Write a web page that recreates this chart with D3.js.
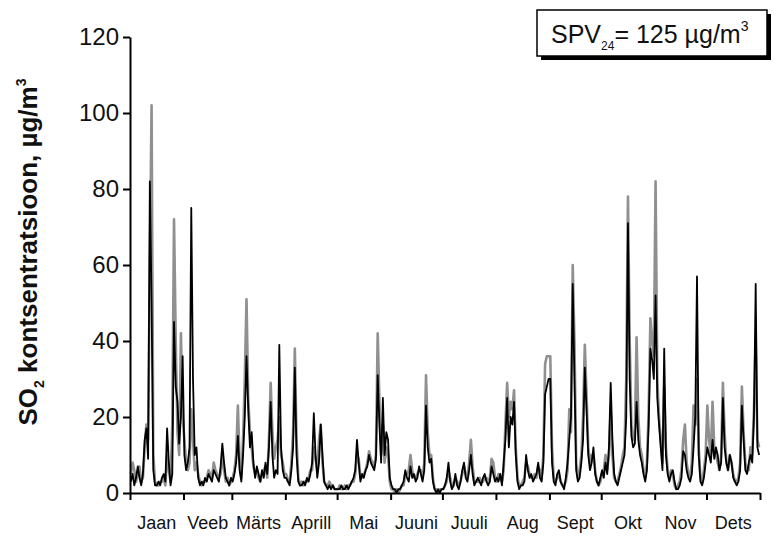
<!DOCTYPE html>
<html>
<head>
<meta charset="utf-8">
<script src="https://cdn.jsdelivr.net/npm/d3@7"></script>
<style>
  html, body { margin: 0; padding: 0; background: #fff; }
  svg { display: block; font-family: "Liberation Sans", Arial, sans-serif; }
</style>
</head>
<body>
<div id="chart"></div>
<script>
const months = ['Jaan', 'Veeb', 'Märts', 'Aprill', 'Mai', 'Juuni', 'Juuli', 'Aug', 'Sept', 'Okt', 'Nov', 'Dets'];
const monthDays = [31, 28, 31, 30, 31, 30, 31, 31, 30, 31, 30, 31];
const yTicks = [0, 20, 40, 60, 80, 100, 120];

// daily SO2, black station
const so2Black = [
  3,5,2,4,7,4,2,5,14,17,9,82,50,6,2,2,3,2,4,5,3,17,8,2,5,45,28,24,13,20,36,
  10,6,8,12,75,30,10,12,4,2,3,2,4,3,5,4,3,6,5,4,3,7,13,8,4,3,2,4,
  3,5,8,15,6,3,10,20,36,22,12,16,8,4,7,5,3,6,4,8,5,12,24,10,4,6,5,39,12,6,4,
  4,3,2,6,12,33,10,3,2,2,3,2,4,3,5,8,21,10,4,8,18,10,3,2,1,2,1,2,1,1,
  1,1,2,1,1,2,1,2,3,4,6,14,8,3,5,4,6,7,10,8,7,6,9,31,18,8,25,10,16,14,4,
  2,1,1,0,1,1,2,3,6,4,3,7,4,5,3,4,7,5,3,6,23,12,8,9,3,1,0,1,0,1,
  1,2,4,8,3,1,2,5,2,1,3,6,8,4,3,6,10,5,2,3,4,3,2,4,5,3,2,3,7,5,3,
  4,3,5,2,8,14,25,12,20,18,24,10,3,1,2,2,3,10,6,4,5,3,4,5,8,4,3,8,26,28,30,
  30,8,3,2,5,6,3,2,1,4,8,14,20,55,30,6,3,4,8,14,33,22,10,6,8,12,5,3,2,4,
  6,4,8,5,12,29,14,5,3,2,4,6,8,10,20,71,30,15,12,13,24,14,10,8,5,3,6,18,38,35,30,
  52,25,18,12,6,38,10,5,3,5,6,3,1,1,2,4,11,10,6,4,3,5,12,20,57,10,3,2,4,8,
  12,10,8,14,9,12,10,6,8,25,12,8,6,10,8,4,3,2,3,6,23,14,6,5,8,10,8,20,55,12,10
];

// daily SO2, grey station
const so2Grey = [
  5,8,6,3,5,7,3,4,12,18,14,60,102,10,3,2,2,3,3,4,2,10,6,3,18,72,40,16,10,42,20,
  14,8,6,8,22,14,6,8,5,3,2,3,3,4,6,5,4,8,6,5,4,5,10,6,3,4,2,3,
  4,6,10,23,8,4,14,30,51,25,16,12,7,5,6,4,3,5,6,7,4,14,29,16,9,12,14,20,10,8,5,
  5,3,3,8,16,38,14,4,2,3,2,3,3,4,6,6,12,9,6,14,18,8,3,2,2,3,2,2,1,1,
  1,2,1,1,2,1,2,2,3,3,5,10,9,4,4,5,6,8,11,9,8,7,10,42,24,10,18,8,12,10,3,
  1,1,0,1,0,1,2,2,5,5,6,10,6,4,4,5,6,6,4,8,31,16,10,10,4,1,1,0,1,1,
  1,2,3,6,4,2,2,4,3,2,3,5,7,5,4,8,14,7,3,3,3,4,3,3,4,4,3,4,9,8,4,
  3,5,4,3,6,18,29,20,24,22,27,12,4,2,2,3,4,8,7,5,4,4,5,4,7,6,4,10,34,36,36,
  36,12,4,3,4,5,3,2,2,3,6,22,16,60,40,8,4,6,10,20,39,26,12,8,10,10,6,3,2,3,
  5,6,10,6,10,22,10,4,3,3,5,7,10,12,30,78,40,18,14,16,41,20,12,10,6,4,8,22,46,40,36,
  82,30,20,14,8,28,12,6,4,6,5,2,1,2,3,6,14,18,8,5,4,8,23,18,30,12,4,3,6,10,
  23,14,10,24,12,10,8,6,10,29,16,8,6,10,8,5,3,3,4,8,28,16,8,6,6,12,10,22,40,14,12
];

const W = 774, H = 556;
const margin = { top: 37, right: 14, bottom: 63, left: 130 };
const iw = W - margin.left - margin.right, ih = H - margin.top - margin.bottom;

const svg = d3.select('#chart').append('svg').attr('width', W).attr('height', H);
const g = svg.append('g').attr('transform', `translate(${margin.left},${margin.top})`);

const x = d3.scaleLinear().domain([0, 365]).range([0, iw]);
const y = d3.scaleLinear().domain([0, 120]).range([ih, 0]);

const monthStarts = [0];
monthDays.forEach(d => monthStarts.push(monthStarts[monthStarts.length - 1] + d));

const line = d3.line().x((d, i) => x(i + 0.5)).y(d => y(d));

g.append('path').datum(so2Grey).attr('d', line)
  .attr('fill', 'none').attr('stroke', '#909090').attr('stroke-width', 2.6).attr('stroke-linejoin', 'round');
g.append('path').datum(so2Black).attr('d', line)
  .attr('fill', 'none').attr('stroke', '#000').attr('stroke-width', 1.8).attr('stroke-linejoin', 'round');

// axes
const yAxis = g.append('g').call(d3.axisLeft(y).tickValues(yTicks).tickSize(7).tickPadding(4).tickSizeOuter(0));
yAxis.select('.domain').attr('stroke-width', 2);
yAxis.selectAll('line').attr('stroke-width', 2);
yAxis.selectAll('text').style('font-size', '24px').style('fill', '#111');

const xAxis = g.append('g').attr('transform', `translate(0,${ih})`)
  .call(d3.axisBottom(x).tickValues(monthStarts).tickSize(7).tickFormat('').tickSizeOuter(0));
xAxis.select('.domain').attr('stroke-width', 2);
xAxis.selectAll('line').attr('stroke-width', 2);

// month names under the middle of each month
g.append('g').selectAll('text').data(months).join('text')
  .attr('x', (d, i) => x((monthStarts[i] + monthStarts[i + 1]) / 2))
  .attr('y', ih + 36)
  .attr('text-anchor', 'middle')
  .style('font-size', '18px').style('fill', '#111')
  .text(d => d);

// y title
const yt = svg.append('text')
  .attr('transform', 'translate(37,252) rotate(-90)')
  .attr('text-anchor', 'middle')
  .style('font-size', '26px').style('font-weight', 'bold').style('fill', '#111');
yt.append('tspan').text('SO');
yt.append('tspan').attr('dy', 7).style('font-size', '14px').text('2');
yt.append('tspan').attr('dy', -7).text(' kontsentratsioon, µg/m');
yt.append('tspan').attr('dy', -11).style('font-size', '14px').text('3');

// limit value box
const bx = 537, by = 10, bw = 230, bh = 46;
svg.append('rect').attr('x', bx + 4).attr('y', by + 4).attr('width', bw).attr('height', bh).attr('fill', '#000');
svg.append('rect').attr('x', bx).attr('y', by).attr('width', bw).attr('height', bh)
  .attr('fill', '#fff').attr('stroke', '#000').attr('stroke-width', 1.5);
const lt = svg.append('text').attr('x', bx + 14).attr('y', by + 33)
  .style('font-size', '25px').style('fill', '#111');
lt.append('tspan').text('SPV');
lt.append('tspan').attr('dy', 7).style('font-size', '12px').text('24');
lt.append('tspan').attr('dy', -7).text('= 125 µg/m');
lt.append('tspan').attr('dy', -12).style('font-size', '14px').text('3');
</script>
</body>
</html>
